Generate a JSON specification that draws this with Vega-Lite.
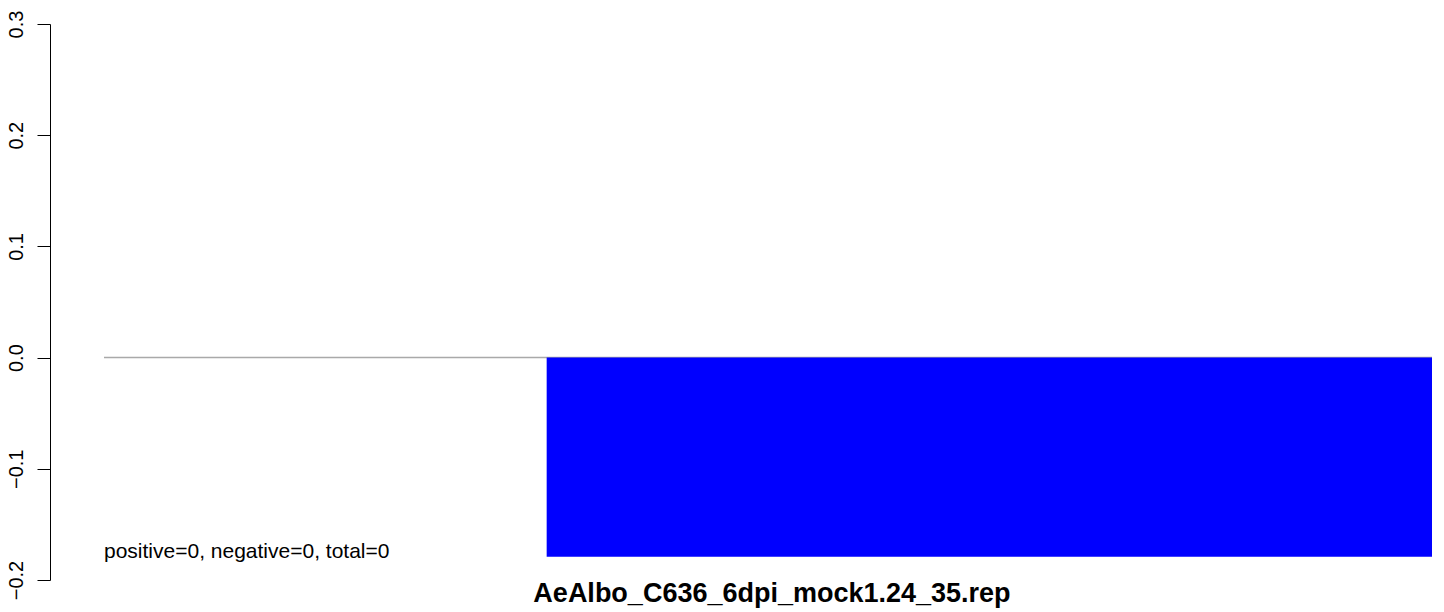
{
  "$schema": "https://vega.github.io/schema/vega-lite/v6.json",
  "autosize": "none",
  "width": 1382,
  "height": 556,
  "padding": {"left": 50, "top": 24, "right": 12, "bottom": 32},
  "background": "white",
  "config": {"view": {"stroke": null}, "font": "Liberation Sans"},
  "datasets": {
    "bars": [
      {"sample": "empty", "start": 0, "end": 1, "value": 0},
      {"sample": "AeAlbo_C636_6dpi_mock1.24_35.rep", "start": 1, "end": 3, "value": -0.179}
    ],
    "zero": [{"from": 0, "to": 3, "y": 0}],
    "notes": [
      {"label": "positive=0, negative=0, total=0", "x": 0, "y": -0.18, "kind": "note"},
      {"label": "AeAlbo_C636_6dpi_mock1.24_35.rep", "x": 1.509, "y": -0.2197, "kind": "title"}
    ]
  },
  "layer": [
    {
      "data": {"name": "zero"},
      "mark": {"type": "rule", "color": "#A9A9A9", "strokeWidth": 1.5},
      "encoding": {
        "x": {"field": "from", "type": "quantitative", "scale": {"domain": [-0.122, 3.0], "nice": false, "zero": false}, "axis": null},
        "x2": {"field": "to"},
        "y": {"field": "y", "type": "quantitative"}
      }
    },
    {
      "data": {"name": "bars"},
      "mark": {"type": "bar", "color": "#0000FF"},
      "encoding": {
        "x": {"field": "start", "type": "quantitative"},
        "x2": {"field": "end"},
        "y": {
          "field": "value", "type": "quantitative",
          "scale": {"domain": [-0.2, 0.3], "nice": false, "zero": false},
          "axis": {
            "values": [-0.2, -0.1, 0, 0.1, 0.2, 0.3],
            "format": ".1f",
            "title": null,
            "grid": false,
            "domainColor": "black",
            "domainWidth": 1,
            "tickColor": "black",
            "tickSize": 13,
            "tickWidth": 1,
            "labelAngle": -90,
            "labelAlign": "center",
            "labelBaseline": "alphabetic",
            "labelPadding": 15,
            "labelFont": "Liberation Sans",
            "labelFontSize": 20,
            "labelColor": "black",
            "labelOverlap": false,
            "labelFlush": false
          }
        },
        "y2": {"datum": 0}
      }
    },
    {
      "data": {"name": "notes"},
      "transform": [{"filter": "datum.kind === 'note'"}],
      "mark": {"type": "text", "align": "left", "baseline": "alphabetic", "font": "Liberation Sans", "fontSize": 21, "color": "black"},
      "encoding": {
        "x": {"field": "x", "type": "quantitative"},
        "y": {"field": "y", "type": "quantitative"},
        "text": {"field": "label"}
      }
    },
    {
      "data": {"name": "notes"},
      "transform": [{"filter": "datum.kind === 'title'"}],
      "mark": {"type": "text", "align": "center", "baseline": "alphabetic", "font": "Liberation Sans", "fontSize": 27, "fontWeight": "bold", "color": "black"},
      "encoding": {
        "x": {"field": "x", "type": "quantitative"},
        "y": {"field": "y", "type": "quantitative"},
        "text": {"field": "label"}
      }
    }
  ]
}
